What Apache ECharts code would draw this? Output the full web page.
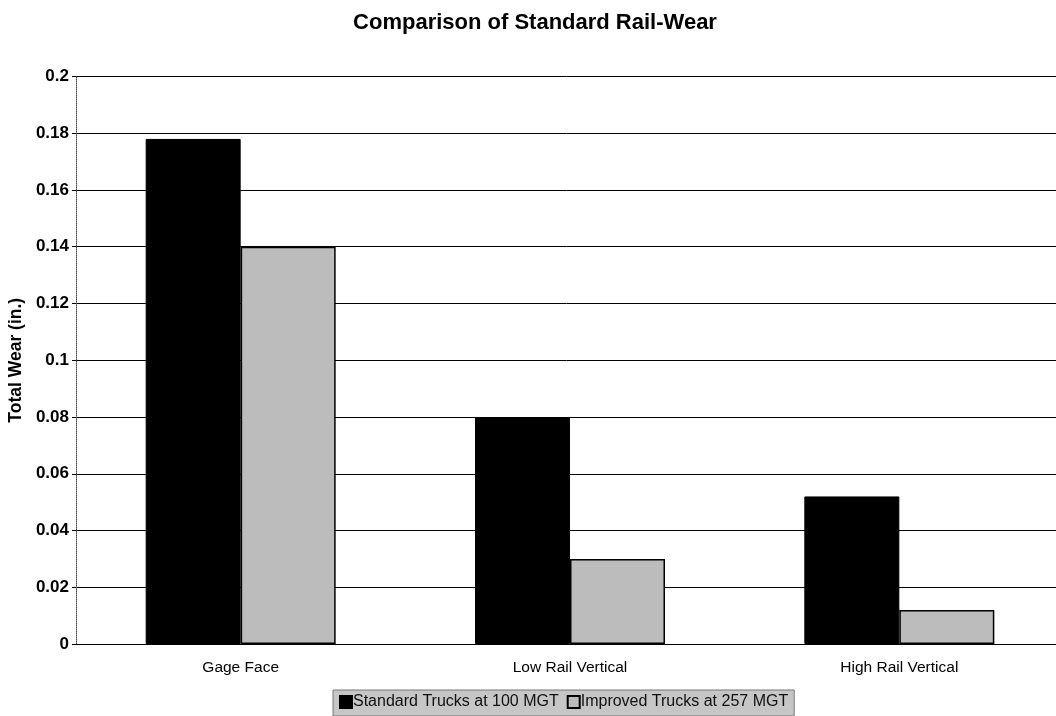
<!DOCTYPE html>
<html><head><meta charset="utf-8">
<script src="https://cdn.jsdelivr.net/npm/echarts@6/dist/echarts.min.js"></script>
<style>html,body{margin:0;padding:0;background:#fff}#c{width:1056px;height:716px}</style>
</head><body><div id="c"></div>
<script>
var categories = ['Gage Face', 'Low Rail Vertical', 'High Rail Vertical'];
var standardTrucks = [0.178, 0.08, 0.052];
var improvedTrucks = [0.14, 0.03, 0.012];
var seriesNames = ['Standard Trucks at 100 MGT', 'Improved Trucks at 257 MGT'];

var chart = echarts.init(document.getElementById('c'));
var font = 'Liberation Sans, Arial, sans-serif';
chart.setOption({
  animation: false,
  backgroundColor: '#fff',
  title: {
    text: 'Comparison of Standard Rail-Wear',
    left: 530, top: 7, textAlign: 'center',
    textStyle: {fontFamily: font, fontSize: 22, fontWeight: 'bold', color: '#000'}
  },
  legend: {
    left: 333, top: 690,
    icon: 'rect',
    itemWidth: 12, itemHeight: 12, itemGap: 8,
    padding: [4, 6, 6, 6],
    backgroundColor: '#c6c6c6',
    borderColor: '#777', borderWidth: 1,
    textStyle: {fontFamily: font, fontSize: 16, color: '#111', padding: [0, 0, 0, -4]},
    data: seriesNames
  },
  grid: {left: 76, top: 76.5, width: 988, height: 567.5, outerBoundsMode: 'none', containLabel: false},
  xAxis: {
    type: 'category', data: categories,
    axisLine: {lineStyle: {color: '#000', width: 1}},
    axisTick: {show: false},
    axisLabel: {fontFamily: font, fontSize: 15.5, color: '#000', margin: 16}
  },
  yAxis: {
    type: 'value', min: 0, max: 0.2, interval: 0.02,
    name: 'Total Wear (in.)', nameLocation: 'middle', nameGap: 49, nameRotate: 90,
    nameTextStyle: {fontFamily: font, fontSize: 17.5, fontWeight: 'bold', color: '#000'},
    axisLine: {show: true, lineStyle: {color: '#444', type: 'dotted'}},
    axisTick: {show: true, length: 4, lineStyle: {color: '#000'}},
    axisLabel: {fontFamily: font, fontSize: 17, fontWeight: 'bold', color: '#000', margin: 7,
      formatter: function (v) { return String(+v.toFixed(2)); }},
    splitLine: {lineStyle: {color: '#000', width: 1}}
  },
  series: [
    {name: seriesNames[0], type: 'bar', data: standardTrucks, barWidth: 95, barGap: '0%',
     itemStyle: {color: '#000', borderColor: '#000', borderWidth: 1}},
    {name: seriesNames[1], type: 'bar', data: improvedTrucks, barWidth: 95,
     itemStyle: {color: '#bcbcbc', borderColor: '#000', borderWidth: 1.5}}
  ]
});
</script></body></html>
